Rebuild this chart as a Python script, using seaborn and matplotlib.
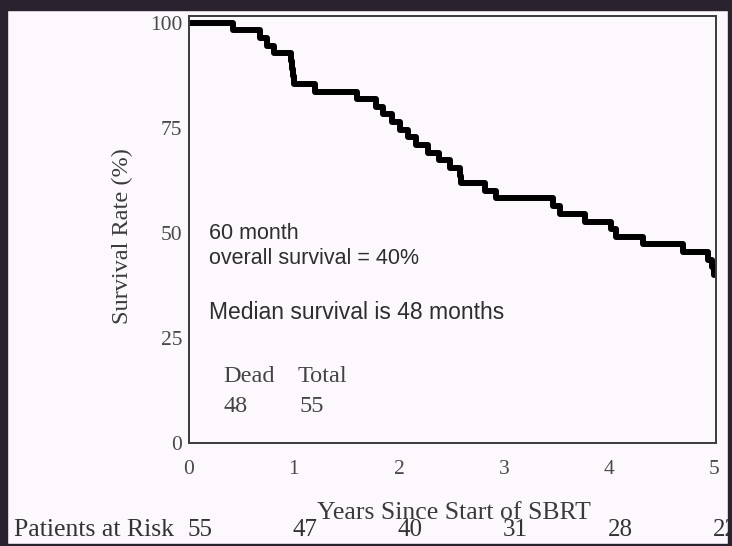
import matplotlib
matplotlib.use("Agg")
import matplotlib.pyplot as plt
import matplotlib.transforms as mtransforms
from matplotlib.patches import Rectangle
import seaborn as sns
import pandas as pd

# Kaplan-Meier curve (years, survival %)
years = [0.0, 0.42, 0.675, 0.74, 0.81, 0.97, 0.98, 0.99, 1.0, 1.2, 1.6,
         1.78, 1.85, 1.93, 2.01, 2.09, 2.16, 2.28, 2.38, 2.49, 2.58, 2.59,
         2.82, 2.92, 3.47, 3.53, 3.77, 4.02, 4.07, 4.32, 4.71, 4.94, 4.98, 5.0]
survival = [100.0, 98.2, 96.4, 94.5, 92.7, 90.9, 89.1, 87.3, 85.5, 83.6, 81.8,
            80.0, 78.2, 76.4, 74.5, 72.7, 70.9, 69.1, 67.3, 65.5, 63.6, 61.8,
            60.0, 58.2, 56.4, 54.5, 52.7, 50.9, 49.1, 47.3, 45.5, 43.6, 41.8, 40.0]

risk_years = [0, 1, 2, 3, 4, 5]
at_risk = [55, 47, 40, 31, 28, 22]

x_ticks = [0, 1, 2, 3, 4, 5]
y_ticks = [0, 25, 50, 75, 100]

df = pd.DataFrame({"Years": years, "Survival": survival})

sns.set_style("white")
plt.rcParams["font.family"] = ["Liberation Serif", "DejaVu Serif"]

bg = "#fdf8fd"
fig = plt.figure(figsize=(7.32, 5.46), dpi=100, facecolor=bg)
ax = fig.add_axes([189 / 732, 1 - 443 / 546, (716 - 189) / 732, (443 - 16) / 546])
ax.set_facecolor(bg)

sns.lineplot(data=df, x="Years", y="Survival", ax=ax, color="black",
             linewidth=4.3, drawstyle="steps-post", estimator=None)

ax.set_xlim(0, 5.02)
ax.set_ylim(0, 101.6)
ax.set_xticks(x_ticks)
ax.set_yticks(y_ticks)
ax.set_xticks([i * 0.1 for i in range(51)], minor=True)
ax.tick_params(axis="both", which="major", direction="out", length=3, width=1,
               labelsize=15.5, colors="#333333", labelcolor="#4a4a4a", pad=2)
ax.tick_params(axis="x", which="major", pad=9)
ax.tick_params(axis="x", which="minor", direction="inout", length=3, width=0.8, colors="#555555")
for s in ax.spines.values():
    s.set_visible(True)
    s.set_color("#3a3a3a")
    s.set_linewidth(1.4)

ax.set_xlabel("Years Since Start of SBRT", fontsize=18.5, color="#3a3a3a")
ax.xaxis.set_label_coords(0.502, -0.138)
ax.set_ylabel("Survival Rate (%)", fontsize=17.5, color="#3a3a3a")
ax.yaxis.set_label_coords(-0.106, 0.485)

sans = ["Liberation Sans", "DejaVu Sans"]
ax.text(0.19, 49.9, "60 month", fontsize=15.5, family=sans, color="#2e2e2e", va="center")
ax.text(0.19, 43.9, "overall survival = 40%", fontsize=15.5, family=sans, color="#2e2e2e", va="center")
ax.text(0.19, 31.1, "Median survival is 48 months", fontsize=16.5, family=sans, color="#2e2e2e", va="center")
ax.text(0.33, 15.9, "Dead", fontsize=17.5, color="#444444", va="center")
ax.text(1.03, 15.9, "Total", fontsize=17.5, color="#444444", va="center")
ax.text(0.33, 8.6, "48", fontsize=17.5, color="#444444", va="center")
ax.text(1.05, 8.6, "55", fontsize=17.5, color="#444444", va="center")

# patients at risk row below the axis
trans = mtransforms.blended_transform_factory(ax.transData, fig.transFigure)
fig.text(14 / 732, 1 - 530 / 546, "Patients at Risk", fontsize=18.5, color="#333333", va="center")
for yr, n in zip(risk_years, at_risk):
    ax.text(yr - 0.01, 1 - 530 / 546, str(n), transform=trans, fontsize=18,
            color="#333333", va="center", ha="left", clip_on=False)

# dark frame of the slide
frame = "#2b2230"
fig.patches.append(Rectangle((0, 0), 7 / 732, 1, transform=fig.transFigure, color=frame, zorder=10))
fig.patches.append(Rectangle((0, 1 - 10 / 546), 1, 10 / 546, transform=fig.transFigure, color=frame, zorder=10))
fig.patches.append(Rectangle((728 / 732, 0), 4 / 732, 1, transform=fig.transFigure, color=frame, zorder=10))
fig.patches.append(Rectangle((0, 0), 1, 2 / 546, transform=fig.transFigure, color=frame, zorder=10))

fig.savefig("out.png", dpi=100, facecolor=bg)
